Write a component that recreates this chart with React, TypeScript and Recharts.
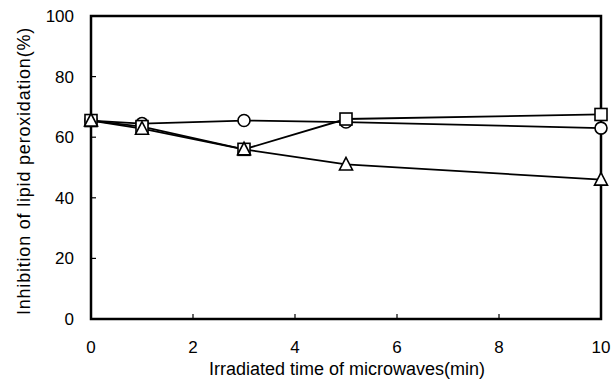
import { LineChart, Line, XAxis, YAxis, ReferenceArea } from "recharts";

const times = [0, 1, 3, 5, 10];
const circleVals = [65.5, 64.5, 65.5, 65, 63];
const squareVals = [65.5, 63.5, 56, 66, 67.5];
const triangleVals = [65.5, 62.8, 56, 51, 46];

const xTicks = [0, 2, 4, 6, 8, 10];
const yTicks = [0, 20, 40, 60, 80, 100];

const data = times.map((t, i) => ({
  t,
  circle: circleVals[i],
  square: squareVals[i],
  triangle: triangleVals[i],
}));

const FONT = "'Liberation Sans', Arial, sans-serif";
const TICK_MARGIN_Y = 17;
const TICK_MARGIN_X = 34;

function CircleDot(props: any) {
  const { cx, cy } = props;
  if (cx == null || cy == null) return null;
  return <circle cx={cx} cy={cy} r={6} fill="#fff" stroke="#000" strokeWidth={1.6} />;
}

function SquareDot(props: any) {
  const { cx, cy } = props;
  if (cx == null || cy == null) return null;
  return <rect x={cx - 6} y={cy - 6} width={12} height={12} fill="#fff" stroke="#000" strokeWidth={1.6} />;
}

function TriangleDot(props: any) {
  const { cx, cy } = props;
  if (cx == null || cy == null) return null;
  const pts = `${cx},${cy - 7} ${cx - 6.5},${cy + 5.5} ${cx + 6.5},${cy + 5.5}`;
  return <polygon points={pts} fill="#fff" stroke="#000" strokeWidth={1.6} />;
}

function XTick(props: any) {
  const { x, y, payload } = props;
  const base = y - TICK_MARGIN_X;
  return (
    <g>
      <line x1={x} x2={x} y1={base} y2={base - 5} stroke="#000" strokeWidth={1.2} />
      <text x={x} y={y} textAnchor="middle" fontSize={17} fontFamily={FONT} fill="#000">
        {payload.value}
      </text>
    </g>
  );
}

function YTick(props: any) {
  const { x, y, payload } = props;
  const base = x + TICK_MARGIN_Y;
  return (
    <g>
      <line x1={base} x2={base + 5} y1={y} y2={y} stroke="#000" strokeWidth={1.2} />
      <text x={x} y={y} dy={6} textAnchor="end" fontSize={17} fontFamily={FONT} fill="#000">
        {payload.value}
      </text>
    </g>
  );
}

export default function App() {
  return (
    <div style={{ position: "absolute", left: 0, top: 0, width: 613, height: 381, background: "#fff" }}>
      <LineChart width={613} height={381} data={data} margin={{ top: 16, right: 12, left: 0, bottom: 0 }}>
        <XAxis
          dataKey="t"
          type="number"
          domain={[0, 10]}
          ticks={xTicks}
          axisLine={false}
          tickLine={false}
          tickSize={0}
          tickMargin={TICK_MARGIN_X}
          height={62}
          tick={XTick}
          label={{
            content: () => (
              <text x={347} y={375} textAnchor="middle" fontSize={18} fontFamily={FONT} fill="#000">
                Irradiated time of microwaves(min)
              </text>
            ),
          }}
        />
        <YAxis
          type="number"
          domain={[0, 100]}
          ticks={yTicks}
          axisLine={false}
          tickLine={false}
          tickSize={0}
          tickMargin={TICK_MARGIN_Y}
          width={91}
          tick={YTick}
          label={{
            content: () => (
              <text
                x={0}
                y={0}
                transform="translate(30,171) rotate(-90)"
                textAnchor="middle"
                fontSize={18}
                letterSpacing={0.8}
                fontFamily={FONT}
                fill="#000"
              >
                Inhibition of lipid peroxidation(%)
              </text>
            ),
          }}
        />
        <ReferenceArea x1={0} x2={10} y1={0} y2={100} fill="none" stroke="#000" strokeWidth={2.5} ifOverflow="visible" />
        <Line dataKey="circle" stroke="#000" strokeWidth={1.8} dot={CircleDot} isAnimationActive={false} />
        <Line dataKey="square" stroke="#000" strokeWidth={1.8} dot={SquareDot} isAnimationActive={false} />
        <Line dataKey="triangle" stroke="#000" strokeWidth={1.8} dot={TriangleDot} isAnimationActive={false} />
      </LineChart>
    </div>
  );
}
